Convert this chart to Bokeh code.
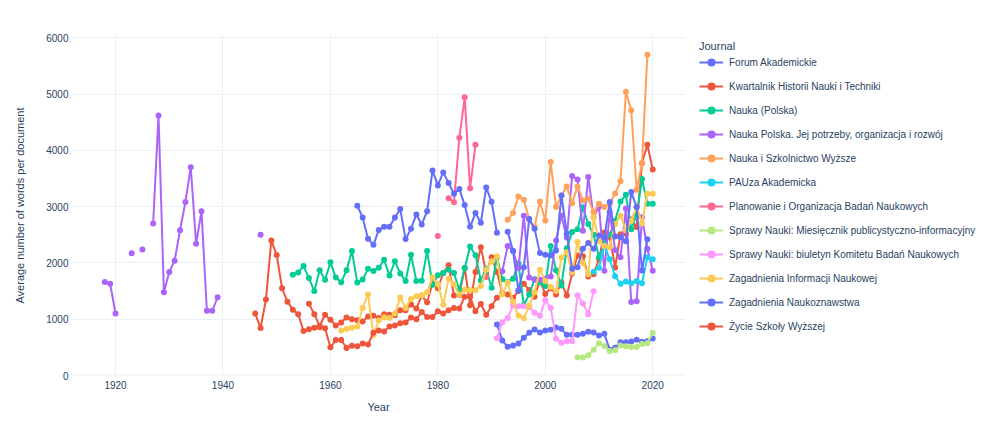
import numpy as np
from bokeh.plotting import figure
from bokeh.models import Legend, LegendItem, Range1d, FixedTicker, Span
from bokeh.embed import file_html
from bokeh.resources import INLINE

# ---- data: (start_year, values) segments; a gap separates segments ----
forum_akademickie = [(1991, [906, 622, 509, 533, 569, 669, 758, 818, 764,
                             800, 812, 853, 829, 723, 723, 723, 740, 776, 764,
                             711, 740, 456, 492, 592, 592, 604, 634, 598, 610, 658])]
kwartalnik = [(1956, [1275, 1090, 880, 1080,
                      990, 890, 940, 1030, 1000, 980, 960, 1050, 1060, 1020,
                      1090, 1080, 1070, 1160, 1160, 1260, 1190, 1420, 1300, 1640,
                      1550, 1820, 1960, 1420, 1430, 1910, 1250, 1840, 2280, 1820,
                      2100, 1840, 1460, 1440, 1380, 1500, 1630, 1520, 1400, 1690,
                      1450, 1550, 1440, 1650, 1420, 1810, 2130, 2120, 1760, 1800,
                      2070, 2540, 2460, 1920, 2510, 2520, 2770, 2640, 3770, 4100, 3660])]
nauka_polska = [(1953, [1790, 1830, 1945, 1730, 1500, 1870, 1700,
                        2010, 1740, 1655, 1870, 2210, 1650, 1705, 1895, 1855, 1915,
                        2055, 1775, 2030, 1810, 1680, 2145, 1680, 1685, 2210, 1610,
                        1780, 1820, 1880, 1820, 1520, 1910, 2290, 2135, 1690, 1895,
                        1560, 2100, 1710, 1660, 1720, 1990, 1250, 1440, 1710, 1650,
                        1590, 2300, 1870, 1600, 2260, 2550, 2600, 2990, 2690, 2500,
                        2100, 2350, 2500, 2750, 3090, 3210, 2600, 2850, 3490, 3050, 3050])]
nauka_polska_jej = [(1918, [1660, 1630, 1100]), (1923, [2170]), (1925, [2240]),
                    (1927, [2700, 4620, 1480, 1840, 2040, 2580, 3080, 3700, 2340, 2920, 1150, 1150, 1390]),
                    (1947, [2500]),
                    (1992, [1850, 2300, 2210, 1910, 2840, 1740, 1700, 1700,
                            1720, 1760, 2400, 2840, 2450, 3545, 3480, 2570, 3525, 2810,
                            3000, 1860, 2900, 2230, 2100, 2965, 1305, 1320, 2810, 2250, 1860])]
nauka_i_szkolnictwo = [(1993, [2767, 2885, 3181, 3122, 2780, 2636, 3092,
                               2755, 3791, 2992, 3199, 3359, 3063, 3359, 3110, 3140, 2900,
                               3051, 2992, 3055, 3232, 3451, 5040, 4714, 3300, 3770, 5700])]
pauza = [(2008, [1800, 1845, 1915, 2310, 2064, 1762, 1632, 1670, 1640, 1680, 1640, 2100, 2064])]
planowanie = [(1980, [2478]), (1982, [3149, 3078, 4223, 4941, 3327, 4099]), (1989, [1750])]
sprawy_miesiecznik = [(2006, [326, 318, 360, 456, 575, 525, 435, 448, 533, 520, 505, 505, 560, 575, 760])]
sprawy_biuletyn = [(1991, [660, 945, 1020, 1244, 1230, 1232, 1214, 1114, 1060,
                           1335, 1203, 655, 580, 610, 610, 1424, 1280, 1090, 1495])]
zag_informacji = [(1962, [800, 825, 850, 870, 1200, 1440, 720, 975,
                          1035, 1020, 1100, 1385, 1200, 1360, 1410, 1420, 1480, 1740,
                          1620, 1255, 1720, 1620, 1440, 1525, 1515, 1515, 1590, 1880,
                          2030, 2120, 1440, 1650, 1310, 1066, 1015, 1240, 1480, 1880,
                          1680, 1570, 1500, 2095, 2190, 1830, 2370, 2000, 1800, 2810,
                          2380, 2300, 2280, 2690, 2840, 2580, 2750, 3000, 2700, 3230, 3230])]
zag_naukoznawstwa = [(1965, [3015, 2808, 2430, 2322, 2583,
                             2642, 2642, 2808, 2956, 2423, 2607, 2861, 2684, 2920, 3643,
                             3377, 3608, 3418, 3229, 3311, 3027, 2642, 2885, 2713, 3341,
                             3086, 2535]),
                     (1993, [2553, 2210, 1510, 1925, 2778, 2607, 2174,
                             2144, 2133, 2222, 3199, 2518, 1896, 1925, 2250, 2352, 2251,
                             2488, 2450, 3080, 2470, 2458, 2387, 3258, 2995, 1866, 2420])]
zycie = [(1946, [1100, 845, 1350, 2400,
                 2140, 1550, 1310, 1170, 1090, 790, 820, 850, 855, 840,
                 500, 630, 630, 490, 530, 520, 570, 550, 760, 800,
                 780, 870, 890, 930, 940, 1030, 1000, 1130, 1040, 1040,
                 1140, 1100, 1160, 1200, 1190, 1400, 1400, 1140, 1270, 1080, 1230, 1380])]

journals = ["Forum Akademickie", "Kwartalnik Historii Nauki i Techniki", "Nauka (Polska)",
            "Nauka Polska. Jej potrzeby, organizacja i rozwój", "Nauka i Szkolnictwo Wyższe",
            "PAUza Akademicka", "Planowanie i Organizacja Badań Naukowych",
            "Sprawy Nauki: Miesięcznik publicystyczno-informacyjny",
            "Sprawy Nauki: biuletyn Komitetu Badań Naukowych", "Zagadnienia Informacji Naukowej",
            "Zagadnienia Naukoznawstwa", "Życie Szkoły Wyższej"]
series = [forum_akademickie, kwartalnik, nauka_polska, nauka_polska_jej, nauka_i_szkolnictwo,
          pauza, planowanie, sprawy_miesiecznik, sprawy_biuletyn, zag_informacji,
          zag_naukoznawstwa, zycie]
colors = ["#636EFA", "#EF553B", "#00CC96", "#AB63FA", "#FFA15A", "#19D3F3", "#FF6692",
          "#B6E880", "#FF97FF", "#FECB52", "#636EFA", "#EF553B"]
y_ticks = [0, 1000, 2000, 3000, 4000, 5000, 6000]
x_ticks = [1920, 1940, 1960, 1980, 2000, 2020]

FONT = "Liberation Sans"
TXT = "#2a3f5f"
GRID = "#EBF0F8"

p = figure(frame_width=614, frame_height=340, output_backend="svg", toolbar_location=None,
           x_range=Range1d(1911.8, 2026.1), y_range=Range1d(0, 6040),
           min_border_left=71, min_border_right=293, min_border_top=35, min_border_bottom=63,
           background_fill_color="white", border_fill_color="white")
p.outline_line_color = None
p.xgrid.grid_line_color = GRID
p.ygrid.grid_line_color = GRID
p.xaxis.ticker = FixedTicker(ticks=x_ticks)
p.yaxis.ticker = FixedTicker(ticks=y_ticks)
p.xaxis.axis_label = "Year"
p.yaxis.axis_label = "Average number of words per document"
for ax in (p.xaxis[0], p.yaxis[0]):
    ax.axis_line_color = None
    ax.major_tick_line_color = None
    ax.minor_tick_line_color = None
    ax.major_tick_out = 0
    ax.major_tick_in = 0
    ax.major_label_text_font = FONT
    ax.major_label_text_font_size = "10px"
    ax.major_label_text_color = TXT
    ax.axis_label_text_font = FONT
    ax.axis_label_text_font_size = "11px"
    ax.axis_label_text_font_style = "normal"
    ax.axis_label_text_color = TXT
p.xaxis.major_label_standoff = 5
p.xaxis.axis_label_standoff = 9
p.yaxis.major_label_standoff = 3
p.yaxis.axis_label_standoff = 17

p.add_layout(Span(location=0, dimension="width", line_color=GRID, line_width=2))

items = []
for name, segs, col in zip(journals, series, colors):
    xs, ys = [], []
    for k, (start, vals) in enumerate(segs):
        if k > 0:
            xs.append(np.nan)
            ys.append(np.nan)
        xs.extend(range(start, start + len(vals)))
        ys.extend(vals)
    xs = np.array(xs, dtype=float)
    ys = np.array(ys, dtype=float)
    ln = p.line(xs, ys, line_color=col, line_width=2)
    sc = p.scatter(xs, ys, marker="circle", size=6, fill_color=col, line_color=None)
    items.append(LegendItem(label=name, renderers=[ln, sc]))

legend = Legend(items=items, title="Journal", location=(14, 39),
                border_line_color=None, background_fill_alpha=0,
                padding=5, margin=0, spacing=4, label_height=20, glyph_height=20,
                glyph_width=24, label_standoff=6,
                label_text_font=FONT, label_text_font_size="10px", label_text_color=TXT,
                title_text_font=FONT, title_text_font_size="11px", title_text_color=TXT,
                title_text_font_style="normal", title_standoff=0)
p.add_layout(legend, "right")

open("out.html", "w").write(file_html(p, INLINE))
